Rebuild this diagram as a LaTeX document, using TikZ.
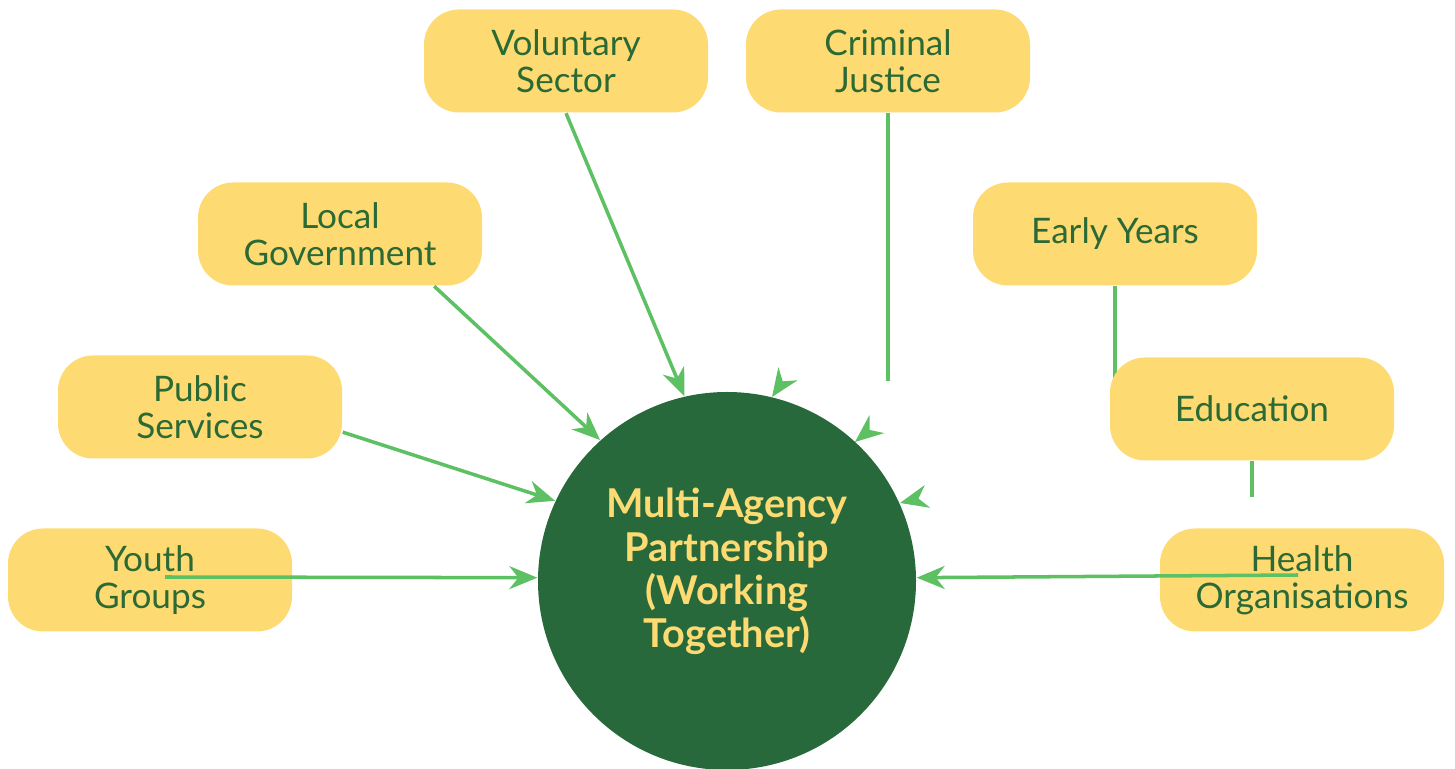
\documentclass[tikz,border=0pt]{standalone}
\usepackage{fontspec}
\setmainfont{Lato}
\usetikzlibrary{arrows.meta,backgrounds}
\definecolor{boxyellow}{HTML}{FDDB72}
\definecolor{hubgreen}{HTML}{27693A}
\definecolor{linegreen}{HTML}{5DC062}
\definecolor{textgreen}{HTML}{2B6935}
\begin{document}
\begin{tikzpicture}[
  box/.style={fill=boxyellow, rounded corners=0.35cm, minimum width=2.84cm, minimum height=1.03cm,
    inner sep=0pt, align=center, text=textgreen, font=\fontsize{10}{10.6}\selectfont},
  hub/.style={circle, fill=hubgreen, minimum size=3.78cm, align=center, text=boxyellow,
    text depth=0.26cm, font=\bfseries\fontsize{11.3}{12.3}\selectfont},
  link/.style={linegreen, line width=1pt},
  arr/.style={link, -{Stealth[length=0.28cm,width=0.23cm,inset=0.09cm]}}
]
\useasboundingbox (0,0) rectangle (14.55,-7.69);

\node[hub] (hub) at (7.27,-5.81) {Multi-Agency\\Partnership\\(Working\\Together)};

\node[box] (vol) at (5.66,-0.61) {Voluntary\\Sector};
\node[box] (cj) at (8.88,-0.61) {Criminal\\Justice};
\node[box] (lg) at (3.40,-2.34) {Local\\Government};
\node[box] (ey) at (11.15,-2.34) {Early Years};
\node[box] (ps) at (2.00,-4.07) {Public\\Services};
\node[box] (ed) at (12.52,-4.09) {Education};
\node[box] (yg) at (1.50,-5.80) {Youth\\Groups};
\node[box] (ho) at (13.02,-5.80) {Health\\Organisations};

\coordinate (cj-end) at (8.88,-3.81);
\coordinate (ey-end) at (11.15,-3.85);
\coordinate (ed-end) at (12.52,-4.97);

% loose arrow heads
\coordinate (h1) at (7.72,-3.97);
\coordinate (h1b) at (7.805,-3.846);
\coordinate (h2) at (8.55,-4.42);
\coordinate (h2b) at (8.666,-4.325);
\coordinate (h3) at (9.00,-5.03);
\coordinate (h3b) at (9.146,-4.995);

\draw[arr] (vol.south) -- (hub.103);
\draw[arr] (lg.-29) -- (hub.132);
\draw[arr] (ps.-10) -- (hub.155);
\draw[arr] ([xshift=0.15cm,yshift=0.03cm]yg.center) -- (hub.179);
\draw[arr] ([xshift=-0.04cm,yshift=0.05cm]ho.center) -- (hub.1);

\draw[link] (cj.south) -- (cj-end);
\begin{scope}[on background layer]
\draw[link] (ey.south) -- (ey-end);
\end{scope}
\draw[link] (ed.south) -- (ed-end);

\draw[arr] (h1b) -- (h1);
\draw[arr] (h2b) -- (h2);
\draw[arr] (h3b) -- (h3);

\end{tikzpicture}
\end{document}
